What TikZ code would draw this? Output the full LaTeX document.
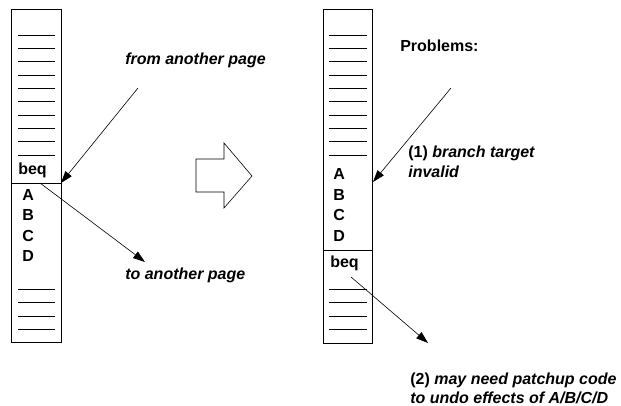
\documentclass[tikz,border=0pt]{standalone}
\usepackage{fontspec}
\setmainfont{Liberation Sans}
\usetikzlibrary{arrows.meta}

\tikzset{
  code/.style={font=\fontsize{16}{18}\selectfont\bfseries, inner sep=0pt, anchor=base west},
  note/.style={font=\fontsize{16}{18}\selectfont\bfseries\itshape, inner sep=0pt, anchor=base west},
}

\begin{document}
\begin{tikzpicture}[x=1pt, y=-1pt, line width=0.6pt, >={Triangle[length=12pt,width=8pt]}]
    \useasboundingbox (0,0) rectangle (621,406);

    % Left page: the block before it is moved
    \draw (11,9) rectangle (61,342);
    \draw (11,183) -- (61,183);
    \foreach \i in {0,...,9} {
        \draw (18,{35+13.33*\i}) -- (55,{35+13.33*\i});
    }
    \foreach \i in {0,...,3} {
        \draw (18,{289+13.4*\i}) -- (55,{289+13.4*\i});
    }
    \node[code] (beqL) at (18,175) {beq};
    \node[code] (aL) at (22,201) {A};
    \node[code] (bL) at (22,221) {B};
    \node[code] (cL) at (22,241) {C};
    \node[code] (dL) at (22,261) {D};

    % Jumps in and out of the left page
    \coordinate (fromL) at (138,88);
    \coordinate (entryL) at (61,183);
    \coordinate (exitL) at (40,183);
    \coordinate (toL) at (145,262);
    \node[note] (fromtxt) at (125,65) {from another page};
    \node[note] (totxt) at (125,279) {to another page};
    \draw[->] (fromL) -- (entryL);
    \draw[->] (exitL) -- (toL);

    % Hollow arrow between the two pages
    \draw (196,159) -- (224,159) -- (224,143) -- (252,176) -- (224,208) -- (224,192) -- (196,192) -- cycle;

    % Right page: beq moved below A..D
    \draw (323,9) rectangle (372,343);
    \draw (323,250) -- (372,250);
    \foreach \i in {0,...,9} {
        \draw (329,{35+13.33*\i}) -- (367,{35+13.33*\i});
    }
    \foreach \i in {0,...,3} {
        \draw (329,{289+13.4*\i}) -- (367,{289+13.4*\i});
    }
    \node[code] (aR) at (333,180) {A};
    \node[code] (bR) at (333,200.3) {B};
    \node[code] (cR) at (333,220.6) {C};
    \node[code] (dR) at (333,241) {D};
    \node[code] (beqR) at (330,267) {beq};

    % Problems after the move
    \node[code] (probs) at (400,52) {Problems:};
    \node[code] (prob1) at (408,158) {(1) \textit{branch target}};
    \node[note] (prob1b) at (408,178) {invalid};
    \node[code] (prob2) at (410,384) {(2) \textit{may need patchup code}};
    \node[note] (prob2b) at (410,403) {to undo effects of A/B/C/D};

    \coordinate (fromR) at (451,88);
    \coordinate (entryR) at (373,182);
    \coordinate (exitR) at (351,277);
    \coordinate (toR) at (428,343);
    \draw[->] (fromR) -- (entryR);
    \draw[->] (exitR) -- (toR);
\end{tikzpicture}
\end{document}
